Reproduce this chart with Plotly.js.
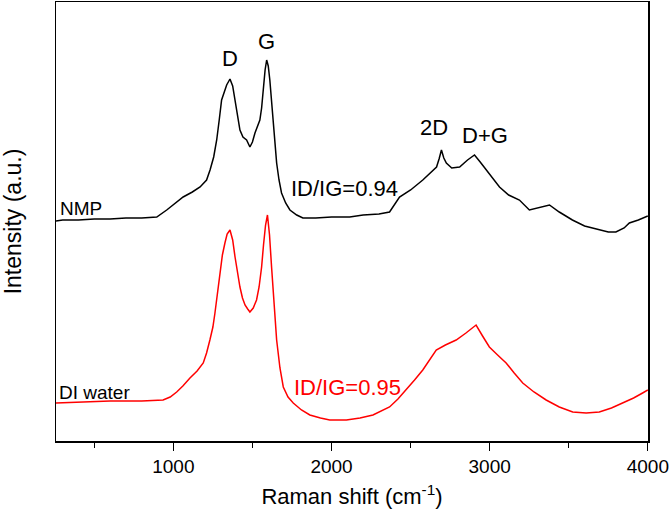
<!DOCTYPE html>
<html>
<head>
<meta charset="utf-8">
<script src="https://cdn.plot.ly/plotly-3.0.1.min.js"></script>
<style>html,body{margin:0;padding:0;background:#fff;}#chart{width:669px;height:518px;}</style>
</head>
<body>
<div id="chart"></div>
<script>
// Raman shift (cm-1) and intensity (a.u., arbitrary offset)
const nmpShift = [258,300,400,500,600,700,800,895,958,1000,1062,1120,1169,1210,1232,1255,1274,1290,1305,1337,1358,1375,1390,1405,1421,1440,1463,1484,1500,1516,1530,1547,1558,1568,1580,1590,1600,1610,1620,1631,1642,1653,1668,1684,1710,1737,1780,1819,1900,2000,2115,2200,2300,2367,2430,2500,2577,2620,2664,2680,2695,2710,2726,2760,2810,2860,2904,2940,2978,3020,3062,3120,3188,3251,3300,3378,3440,3523,3600,3693,3750,3798,3850,3883,3940,4000];
const nmpIntensity = [220,221,221,222,222,223,223,224,231,236,244,249,254,261,271,284,301,321,341,356,362,355,341,324,311,304,301,294,299,308,314,321,333,351,371,381,375,361,341,314,293,278,261,248,238,231,226,223,223,224,224,226,227,229,244,251,261,267,274,282,291,283,278,273,274,281,286,279,271,263,254,246,241,231,233,236,229,221,215,211,209,209,213,218,221,225];

const waterShift = [258,400,500,600,700,800,935,980,1021,1060,1105,1150,1189,1210,1231,1250,1263,1280,1295,1310,1326,1340,1358,1375,1390,1405,1421,1437,1453,1470,1484,1505,1526,1542,1558,1570,1583,1595,1608,1621,1637,1653,1674,1695,1725,1758,1810,1863,1930,1989,2094,2180,2262,2320,2367,2420,2472,2525,2577,2620,2662,2720,2788,2850,2914,2955,2998,3050,3104,3155,3209,3280,3357,3440,3525,3610,3693,3770,3840,3910,3967,4000];
const waterIntensity = [38,39,39,40,40,40,41,44,49,55,63,70,78,88,101,114,128,148,168,186,198,207,211,201,184,169,154,143,136,132,129,133,141,154,174,196,216,226,206,174,136,101,73,54,44,38,31,26,23,21,21,23,26,30,34,42,51,61,71,81,91,96,101,108,116,105,94,86,78,68,58,49,41,34,29,28,29,33,38,43,48,51];

const xTickVals = [1000,2000,3000,4000];
const xTickText = ['1000','2000','3000','4000'];

const FONT = 'Liberation Sans, Arial, sans-serif';

const traces = [
  {x: nmpShift, y: nmpIntensity, type: 'scatter', mode: 'lines', name: 'NMP',
   line: {color: '#000000', width: 1.5}},
  {x: waterShift, y: waterIntensity, type: 'scatter', mode: 'lines', name: 'DI water',
   line: {color: '#ff0000', width: 1.5}}
];

function ann(text, x, y, color, size, xanchor) {
  return {text: text, x: x, y: y, xref: 'x', yref: 'y', showarrow: false,
          xanchor: xanchor || 'center', yanchor: 'middle',
          font: {family: FONT, size: size, color: color}};
}

const layout = {
  width: 669, height: 518,
  margin: {l: 56, r: 21, t: 2, b: 77},
  paper_bgcolor: '#ffffff', plot_bgcolor: '#ffffff',
  showlegend: false,
  font: {family: FONT, color: '#000'},
  xaxis: {
    range: [258, 4001],
    tickvals: xTickVals, ticktext: xTickText,
    ticks: 'outside', ticklen: 8, tickwidth: 1.3, tickcolor: '#000',
    minor: {dtick: 500, tick0: 0, ticks: 'outside', ticklen: 5, tickwidth: 1.3, tickcolor: '#000', showgrid: false},
    showline: true, linecolor: '#000', linewidth: 1.5, mirror: true,
    showgrid: false, zeroline: false,
    tickfont: {family: FONT, size: 19, color: '#000'},
    title: {text: 'Raman shift (cm<sup>-1</sup>)', font: {family: FONT, size: 22, color: '#000'}, standoff: 12}
  },
  yaxis: {
    range: [0, 439],
    showticklabels: false, ticks: '',
    showline: true, linecolor: '#000', linewidth: 1.5, mirror: true,
    showgrid: false, zeroline: false,
    title: {text: 'Intensity (a.u.)', font: {family: FONT, size: 23, color: '#000'}, standoff: 26}
  },
  annotations: [
    ann('D', 1358, 383, '#000', 22),
    ann('G', 1592, 400, '#000', 22),
    ann('2D', 2646, 314, '#000', 22),
    ann('D+G', 2968, 306, '#000', 22),
    ann('NMP', 272, 233, '#000', 19, 'left'),
    ann('DI water', 266, 49, '#000', 19, 'left'),
    ann('ID/IG=0.94', 2084, 253, '#000', 22),
    ann('ID/IG=0.95', 2103, 54, '#ff0000', 22)
  ]
};

Plotly.newPlot('chart', traces, layout, {staticPlot: true, displayModeBar: false});
</script>
</body>
</html>
